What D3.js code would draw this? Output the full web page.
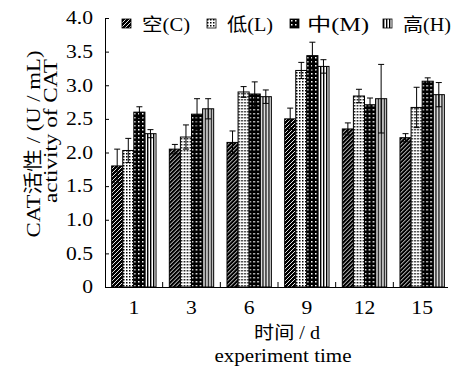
<!DOCTYPE html>
<html>
<head>
<meta charset="utf-8">
<script src="https://cdn.jsdelivr.net/npm/d3@7"></script>
<style>
  body { margin: 0; background: #fff; }
  svg { display: block; }
</style>
</head>
<body>
<div id="chart"></div>
<script>
// data
const days = ['1', '3', '6', '9', '12', '15'];
const groups = ['C', 'L', 'M', 'H'];
const groupNames = ['空(C)', '低(L)', '中(M)', '高(H)'];
const valC = [1.80, 2.05, 2.15, 2.50, 2.35, 2.22];
const valL = [2.03, 2.23, 2.90, 3.22, 2.84, 2.67];
const valM = [2.60, 2.57, 2.87, 3.44, 2.71, 3.06];
const valH = [2.28, 2.65, 2.83, 3.28, 2.80, 2.86];
const errC = [0.25, 0.07, 0.17, 0.16, 0.09, 0.06];
const errL = [0.18, 0.18, 0.08, 0.12, 0.10, 0.30];
const errM = [0.08, 0.23, 0.18, 0.20, 0.10, 0.05];
const errH = [0.06, 0.15, 0.10, 0.10, 0.51, 0.18];
const yTicks = [0, 0.5, 1.0, 1.5, 2.0, 2.5, 3.0, 3.5, 4.0];

const values = [valC, valL, valM, valH];
const errors = [errC, errL, errM, errH];

const W = 451, H = 367;
const margin = { top: 18, right: 0, bottom: 80, left: 105 };
const serif = '"Liberation Serif", "Times New Roman", serif';
const cjk = '"Noto Sans CJK SC", sans-serif';

// the source figure uses a wide Times-like face; widen text to match
function stretch(sel, k) {
  sel.each(function() {
    const len = this.getComputedTextLength();
    d3.select(this).attr('textLength', len * k).attr('lengthAdjust', 'spacingAndGlyphs');
  });
}
function fitTo(sel, target) {
  sel.attr('textLength', target).attr('lengthAdjust', 'spacingAndGlyphs');
}

const svg = d3.select('#chart').append('svg')
    .attr('width', W)
    .attr('height', H);

// fill patterns
const defs = svg.append('defs');

const pC = defs.append('pattern').attr('id', 'patC')
    .attr('patternUnits', 'userSpaceOnUse').attr('width', 4).attr('height', 4);
pC.append('rect').attr('width', 4).attr('height', 4).attr('fill', '#000');
pC.append('path').attr('d', 'M-1,1 L1,-1 M0,4 L4,0 M3,5 L5,3')
    .attr('stroke', '#fff').attr('stroke-width', 0.9);

const pL = defs.append('pattern').attr('id', 'patL')
    .attr('patternUnits', 'userSpaceOnUse').attr('width', 3).attr('height', 3);
pL.append('rect').attr('width', 3).attr('height', 3).attr('fill', '#fff');
pL.append('rect').attr('width', 1.5).attr('height', 1.5).attr('fill', '#000');

const pM = defs.append('pattern').attr('id', 'patM')
    .attr('patternUnits', 'userSpaceOnUse').attr('width', 4).attr('height', 4);
pM.append('rect').attr('width', 4).attr('height', 4).attr('fill', '#000');
pM.append('rect').attr('x', 1).attr('y', 1).attr('width', 1.5).attr('height', 1.5).attr('fill', '#fff');

const pH = defs.append('pattern').attr('id', 'patH')
    .attr('patternUnits', 'userSpaceOnUse').attr('width', 3).attr('height', 3);
pH.append('rect').attr('width', 3).attr('height', 3).attr('fill', '#fff');
pH.append('rect').attr('width', 1.4).attr('height', 3).attr('fill', '#000');

const fills = ['url(#patC)', 'url(#patL)', 'url(#patM)', 'url(#patH)'];

const x0 = d3.scaleBand()
    .domain(days)
    .range([margin.left, W - margin.right])
    .paddingInner(0)
    .paddingOuter(0);

const x1 = d3.scaleBand()
    .domain(groups)
    .range([0, x0.bandwidth()])
    .paddingOuter(0.6)
    .paddingInner(0);

const y = d3.scaleLinear()
    .domain([0, 4])
    .range([H - margin.bottom, margin.top]);

// bars
days.forEach((day, i) => {
  const g = svg.append('g').attr('transform', `translate(${x0(day)},0)`);
  groups.forEach((grp, j) => {
    const v = values[j][i];
    g.append('rect')
        .attr('x', x1(grp))
        .attr('y', y(v))
        .attr('width', x1.bandwidth())
        .attr('height', y(0) - y(v))
        .attr('fill', fills[j])
        .attr('stroke', '#000')
        .attr('stroke-width', 1);
  });
  groups.forEach((grp, j) => {
    const v = values[j][i], e = errors[j][i];
    const cx = x1(grp) + x1.bandwidth() / 2;
    const cap = 3;
    g.append('path')
        .attr('d', `M${cx},${y(v - e)}V${y(v + e)}` +
                   `M${cx - cap},${y(v + e)}H${cx + cap}` +
                   `M${cx - cap},${y(v - e)}H${cx + cap}`)
        .attr('stroke', '#000')
        .attr('stroke-width', 1)
        .attr('fill', 'none');
  });
});

// y axis
const yAxis = svg.append('g')
    .attr('transform', `translate(${margin.left},0)`)
    .call(d3.axisLeft(y).tickValues(yTicks).tickSizeInner(-4).tickSizeOuter(0)
        .tickPadding(12).tickFormat(d => d === 0 ? '0' : d3.format('.1f')(d)));
yAxis.select('.domain').attr('stroke', '#000');
yAxis.selectAll('text')
    .attr('font-family', serif).attr('font-size', 18).attr('fill', '#000')
    .call(stretch, 1.2);

// x axis
const xAxis = svg.append('g')
    .attr('transform', `translate(0,${y(0)})`)
    .call(d3.axisBottom(x0).tickSize(0).tickPadding(14));
xAxis.select('.domain').attr('d', `M${margin.left},0.5H${W - 3}`).attr('stroke', '#000');
xAxis.selectAll('text')
    .attr('font-family', serif).attr('font-size', 18).attr('fill', '#000')
    .call(stretch, 1.2);
// small separators between day groups
xAxis.selectAll('line.sep')
    .data(days.slice(1))
    .join('line')
    .attr('class', 'sep')
    .attr('x1', d => x0(d)).attr('x2', d => x0(d))
    .attr('y1', 0).attr('y2', -5)
    .attr('stroke', '#000');

// axis titles
const xt = svg.append('text')
    .attr('x', 287).attr('y', 339)
    .attr('text-anchor', 'middle')
    .attr('font-size', 18).attr('fill', '#000');
xt.append('tspan').attr('font-family', cjk).text('时间');
xt.append('tspan').attr('font-family', serif).text(' / d');
fitTo(xt, 66);

svg.append('text')
    .attr('x', 283).attr('y', 362)
    .attr('text-anchor', 'middle')
    .attr('font-family', serif).attr('font-size', 18).attr('fill', '#000')
    .text('experiment time')
    .call(fitTo, 137);

const yt = svg.append('text')
    .attr('transform', 'translate(40,144) rotate(-90)')
    .attr('text-anchor', 'middle')
    .attr('font-size', 19).attr('fill', '#000');
yt.append('tspan').attr('font-family', serif).text('CAT');
yt.append('tspan').attr('font-family', cjk).text('活性');
yt.append('tspan').attr('font-family', serif).text(' / (U / mL)');
fitTo(yt, 187);

svg.append('text')
    .attr('transform', 'translate(57,131) rotate(-90)')
    .attr('text-anchor', 'middle')
    .attr('font-family', serif).attr('font-size', 19).attr('fill', '#000')
    .text('activity of CAT')
    .call(fitTo, 144);

// legend
const legendX = [122, 207, 290, 383];
const legendW = [48, 46, 62, 48];
groups.forEach((grp, j) => {
  const lg = svg.append('g').attr('transform', `translate(${legendX[j]},19)`);
  lg.append('rect')
      .attr('x', 0).attr('y', 0).attr('width', 9).attr('height', 9)
      .attr('fill', fills[j]).attr('stroke', '#000').attr('stroke-width', 0.8);
  const t = lg.append('text')
      .attr('x', j === 2 ? 17 : 20).attr('y', 12)
      .attr('font-size', 18).attr('fill', '#000');
  t.append('tspan').attr('font-family', cjk).text(groupNames[j].slice(0, 1));
  t.append('tspan').attr('font-family', serif).text(groupNames[j].slice(1));
  fitTo(t, legendW[j]);
});
</script>
</body>
</html>
